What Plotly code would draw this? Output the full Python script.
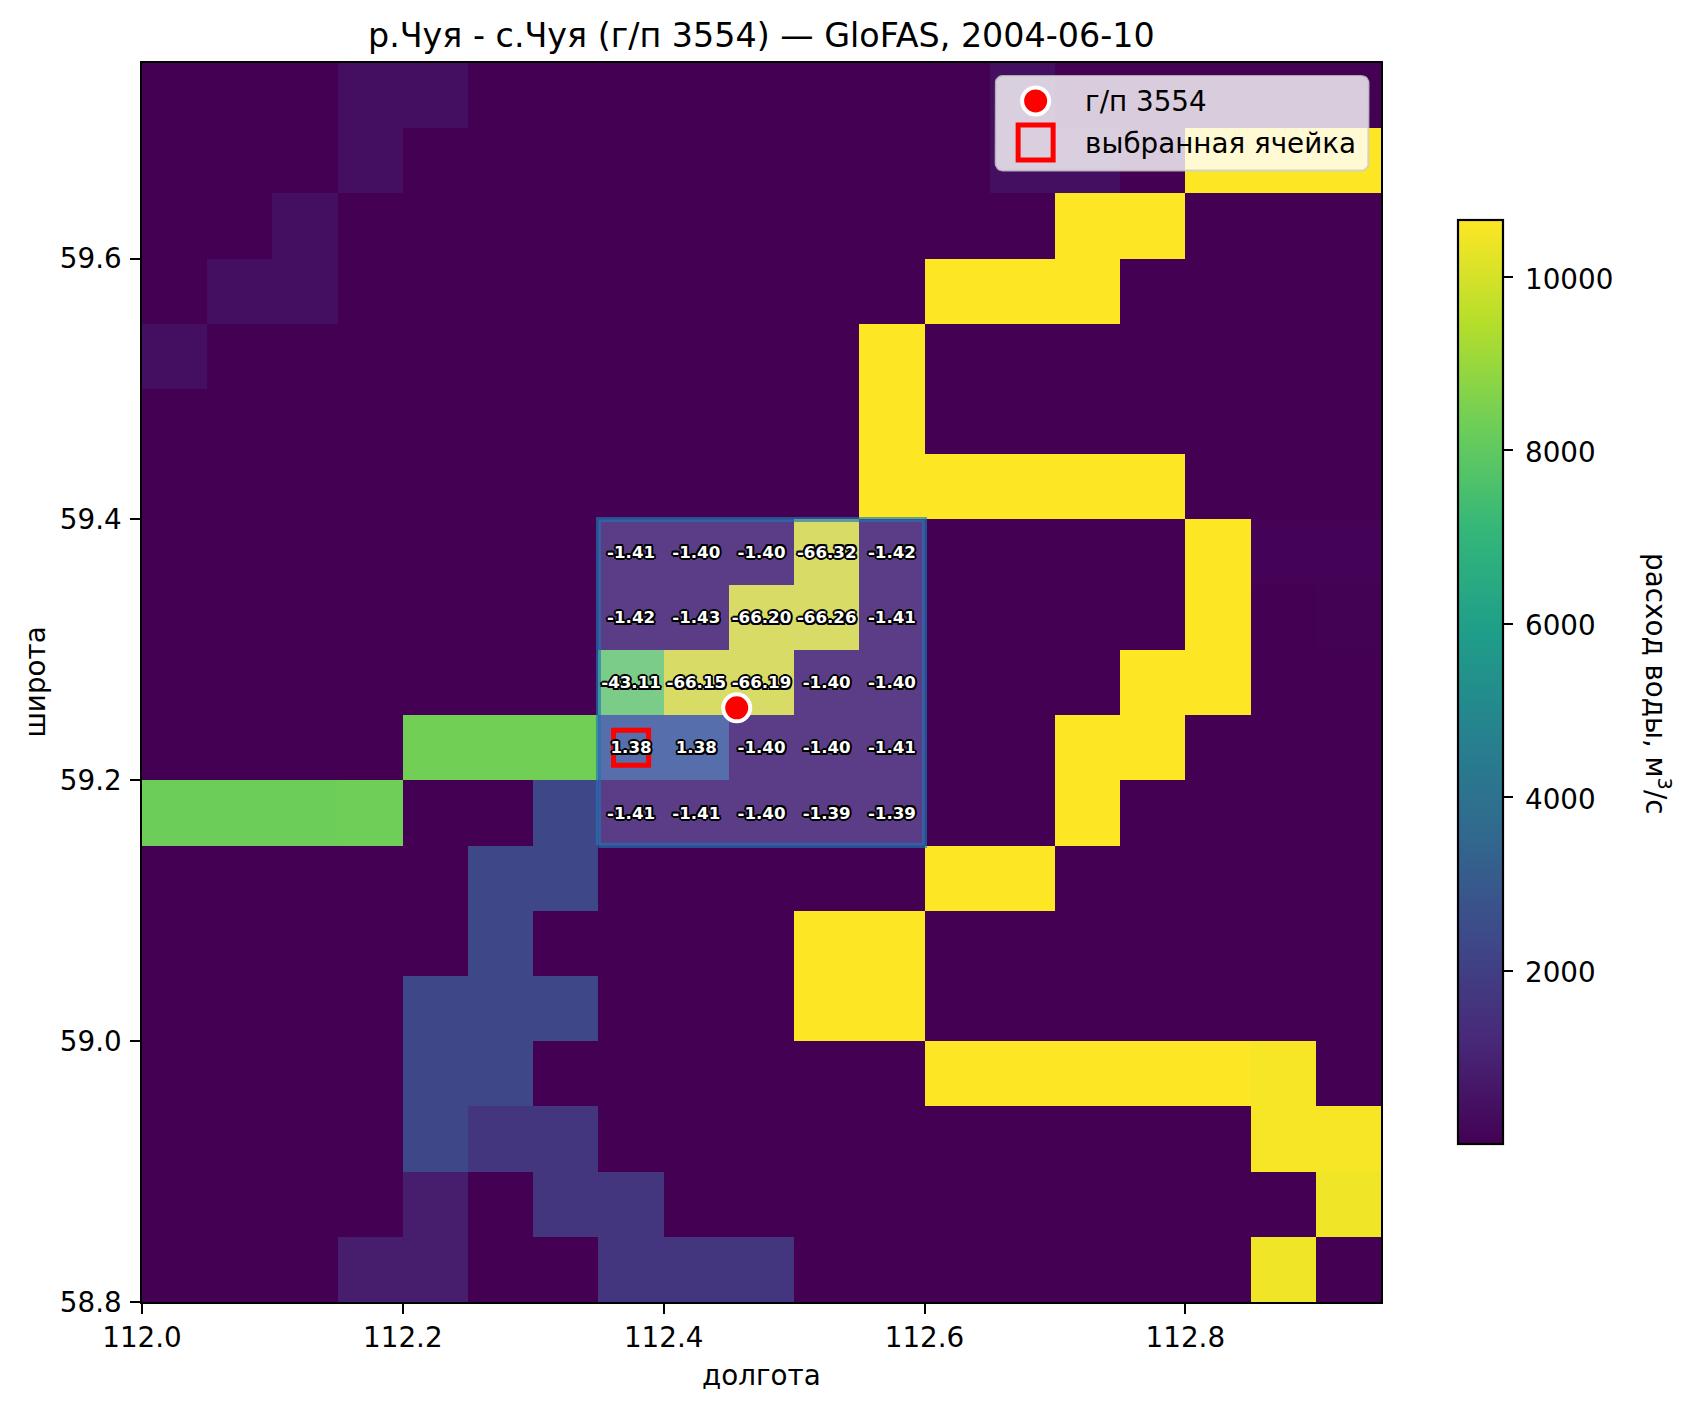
import math
import plotly.graph_objects as go

TITLE = "р.Чуя - с.Чуя (г/п 3554) — GloFAS, 2004-06-10"
FONT = "DejaVu Sans"

# Cell edges of the GloFAS grid
lon_edges = [112.0, 112.05, 112.1, 112.15, 112.2, 112.25, 112.3, 112.35, 112.4, 112.45,
             112.5, 112.55, 112.6, 112.65, 112.7, 112.75, 112.8, 112.85, 112.9, 112.95]
lat_edges = [58.8, 58.85, 58.9, 58.95, 59.0, 59.05, 59.1, 59.15, 59.2, 59.25,
             59.3, 59.35, 59.4, 59.45, 59.5, 59.55, 59.6, 59.65, 59.7, 59.75]

# Discharge classes seen across the domain, m3/s
a = 20      # background
b = 430     # faint tributary
c = 850     # small tributary
d = 1650    # medium tributary
e = 2350    # main branch
f = 8250    # western reach
h = 8290
g = 8350
y = 10650   # main stem, upper
w = 10600
p = 10540
q = 10440

# Discharge, north row first
discharge_rows = [
    [a, a, a, b, b, a, a, a, a, a, a, a, a, b, a, a, a, a, a],
    [a, a, a, b, a, a, a, a, a, a, a, a, a, b, b, a, y, y, y],
    [a, a, b, a, a, a, a, a, a, a, a, a, a, a, y, y, a, a, a],
    [a, b, b, a, a, a, a, a, a, a, a, a, y, y, y, a, a, a, a],
    [b, a, a, a, a, a, a, a, a, a, a, y, a, a, a, a, a, a, a],
    [a, a, a, a, a, a, a, a, a, a, a, y, a, a, a, a, a, a, a],
    [a, a, a, a, a, a, a, a, a, a, a, y, y, y, y, y, a, a, a],
    [a, a, a, a, a, a, a, a, a, a, w, a, a, a, a, a, y, 60, 60],
    [a, a, a, a, a, a, a, a, a, w, w, a, a, a, a, a, y, 10, 40],
    [a, a, a, a, a, a, a, g, w, w, a, a, a, a, a, y, y, a, a],
    [a, a, a, a, g, g, g, e, e, a, a, a, a, a, y, y, a, a, a],
    [f, f, f, h, a, a, e, a, a, a, a, a, a, a, y, a, a, a, a],
    [a, a, a, a, a, e, e, a, a, a, a, a, y, y, a, a, a, a, a],
    [a, a, a, a, a, e, a, a, a, a, y, y, a, a, a, a, a, a, a],
    [a, a, a, a, e, e, e, a, a, a, y, y, a, a, a, a, a, a, a],
    [a, a, a, a, e, e, a, a, a, a, a, a, y, y, y, y, y, p, a],
    [a, a, a, a, e, d, d, a, a, a, a, a, a, a, a, a, a, p, p],
    [a, a, a, a, c, a, d, d, a, a, a, a, a, a, a, a, a, a, q],
    [a, a, a, c, c, a, a, d, d, d, a, a, a, a, a, a, a, q, a],
]

# Relative differences in the 5x5 window around the gauge, north row first
window_lons = [112.375, 112.425, 112.475, 112.525, 112.575]
window_lats = [59.375, 59.325, 59.275, 59.225, 59.175]
window_values = [
    ["-1.41", "-1.40", "-1.40", "-66.32", "-1.42"],
    ["-1.42", "-1.43", "-66.20", "-66.26", "-1.41"],
    ["-43.11", "-66.15", "-66.19", "-1.40", "-1.40"],
    ["1.38", "1.38", "-1.40", "-1.40", "-1.41"],
    ["-1.41", "-1.41", "-1.40", "-1.39", "-1.39"],
]
window_lon_bounds = [112.35, 112.6]
window_lat_bounds = [59.15, 59.4]

gauge_lon = [112.456]
gauge_lat = [59.2556]
selected_lon = [112.375]
selected_lat = [59.225]

lon_ticks = [112.0, 112.2, 112.4, 112.6, 112.8]
lat_ticks = [58.8, 59.0, 59.2, 59.4, 59.6]
cbar_ticks = [2000, 4000, 6000, 8000, 10000]
z_min, z_max = 7, 10653

# Page-pixel layout of the axes box and the colour bar
L, R, T, B = 141.5, 1381, 62.5, 1302.5
W, H = 1687, 1409
CBAR_TOP, CBAR_LEN = 220, 924

LABEL_FONT = 27.78
# Optical centring of the cell labels, degrees of latitude
LABEL_NUDGE = 0.0012
STROKE = ",".join(
    f"{dx}px {dy}px 0 #000"
    for dx, dy in [(2, 0), (-2, 0), (0, 2), (0, -2), (1.5, 1.5), (-1.5, -1.5), (1.5, -1.5), (-1.5, 1.5)]
)

fig = go.Figure()

fig.add_trace(go.Heatmap(
    x=lon_edges, y=lat_edges, z=discharge_rows[::-1],
    colorscale="Viridis", zmin=z_min, zmax=z_max, hoverinfo="skip",
    colorbar=dict(
        lenmode="pixels", len=CBAR_LEN, thicknessmode="pixels", thickness=45,
        x=(1458 - L) / (R - L), xanchor="left", xpad=0,
        y=(B - (CBAR_TOP + CBAR_LEN / 2)) / (B - T), yanchor="middle", ypad=0,
        outlinewidth=2.2, outlinecolor="black",
        ticks="outside", ticklen=9.7, tickwidth=2.2, tickcolor="black",
        tickvals=cbar_ticks, showticklabels=False,
    ),
))

# Highlighted 5x5 window
wx0, wx1 = window_lon_bounds
wy0, wy1 = window_lat_bounds
fig.add_trace(go.Scatter(
    x=[wx0, wx1, wx1, wx0, wx0], y=[wy0, wy0, wy1, wy1, wy0],
    mode="lines", fill="toself", fillcolor="rgba(142,198,248,0.31)",
    line=dict(color="rgba(31,119,180,0.65)", width=5),
    hoverinfo="skip", showlegend=False,
))

# Selected grid cell
fig.add_trace(go.Scatter(
    x=selected_lon, y=selected_lat, mode="markers",
    marker=dict(symbol="square", size=35, color="rgba(0,0,0,0)", line=dict(color="#ff0000", width=5)),
    hoverinfo="skip", showlegend=False,
))

# Cell labels
label_x = [lon for _ in window_lats for lon in window_lons]
label_y = [lat - LABEL_NUDGE for lat in window_lats for _ in window_lons]
label_text = [v for row in window_values for v in row]
fig.add_trace(go.Scatter(
    x=label_x, y=label_y, text=label_text, mode="text",
    textposition="middle center",
    textfont=dict(family=FONT, size=16.67, color="white", weight="bold", shadow=STROKE),
    hoverinfo="skip", showlegend=False,
))

# Gauge location
fig.add_trace(go.Scatter(
    x=gauge_lon, y=gauge_lat, mode="markers",
    marker=dict(symbol="circle", size=27, color="#ff0000", line=dict(color="white", width=4)),
    hoverinfo="skip", showlegend=False,
))

# Legend panel, built on a page-pixel overlay axis so that large swatches keep their size
box_l, box_r, box_t, box_b, rad = 995.5, 1368.5, 75.5, 170, 7
corners = [(box_r - rad, box_t + rad, -90), (box_r - rad, box_b - rad, 0),
           (box_l + rad, box_b - rad, 90), (box_l + rad, box_t + rad, 180)]
panel_x, panel_y = [], []
for cx, cy, start in corners:
    for step in range(7):
        angle = math.radians(start + step * 15)
        panel_x.append(cx + rad * math.cos(angle))
        panel_y.append(cy + rad * math.sin(angle))
panel_x.append(panel_x[0])
panel_y.append(panel_y[0])
fig.add_trace(go.Scatter(
    x=panel_x, y=panel_y, xaxis="x2", yaxis="y2", mode="lines", fill="toself",
    fillcolor="rgba(255,255,255,0.8)", line=dict(color="rgba(204,204,204,0.8)", width=2),
    hoverinfo="skip", showlegend=False,
))
fig.add_trace(go.Scatter(
    x=[1035.5], y=[100.5], xaxis="x2", yaxis="y2", mode="markers",
    marker=dict(symbol="circle", size=27, color="#ff0000", line=dict(color="white", width=4)),
    hoverinfo="skip", showlegend=False,
))
fig.add_trace(go.Scatter(
    x=[1035.5], y=[142], xaxis="x2", yaxis="y2", mode="markers",
    marker=dict(symbol="square", size=35, color="rgba(0,0,0,0)", line=dict(color="#ff0000", width=5)),
    hoverinfo="skip", showlegend=False,
))
fig.add_trace(go.Scatter(
    x=[1085, 1085], y=[104, 146], text=["г/п 3554", "выбранная ячейка"],
    xaxis="x2", yaxis="y2", mode="text", textposition="middle right",
    textfont=dict(family=FONT, size=LABEL_FONT, color="black"),
    hoverinfo="skip", showlegend=False,
))

axis_common = dict(
    showgrid=False, zeroline=False, showline=True, mirror=True,
    linecolor="black", linewidth=2.2,
    ticks="outside", ticklen=9.7, tickwidth=2.2, tickcolor="black",
    tickfont=dict(family=FONT, size=LABEL_FONT, color="black"),
    tickformat=".1f",
)

# Colour-bar tick labels, placed from the same value scale as the bar
cbar_labels = [
    dict(text=str(v), xref="paper", yref="paper",
         x=(1523 - L) / (R - L),
         y=(B - (CBAR_TOP + (z_max - v) / (z_max - z_min) * CBAR_LEN)) / (B - T),
         yshift=-2, showarrow=False, xanchor="left", yanchor="middle",
         font=dict(family=FONT, size=LABEL_FONT, color="black"))
    for v in cbar_ticks
]

fig.update_layout(
    width=W, height=H, autosize=False,
    paper_bgcolor="white", plot_bgcolor="white",
    margin=dict(l=L, r=W - R, t=T, b=H - B),
    showlegend=False,
    xaxis=dict(range=[112.0, 112.95], tickvals=lon_ticks, **axis_common),
    yaxis=dict(range=[58.8, 59.75], tickvals=lat_ticks, ticklabelstandoff=3, **axis_common),
    xaxis2=dict(range=[L, R], overlaying="x", visible=False, anchor="y2"),
    yaxis2=dict(range=[B, T], overlaying="y", visible=False, anchor="x2"),
    annotations=cbar_labels + [
        dict(text=TITLE, xref="paper", yref="paper", x=0.5, y=(B - 35) / (B - T),
             showarrow=False, xanchor="center", yanchor="middle",
             font=dict(family=FONT, size=33.33, color="black")),
        dict(text="долгота", xref="paper", yref="paper", x=0.5, y=(B - 1376) / (B - T),
             showarrow=False, xanchor="center", yanchor="middle",
             font=dict(family=FONT, size=LABEL_FONT, color="black")),
        dict(text="широта", xref="paper", yref="paper", x=(34.5 - L) / (R - L), y=0.5,
             showarrow=False, xanchor="center", yanchor="middle", textangle=-90,
             font=dict(family=FONT, size=LABEL_FONT, color="black")),
        dict(text="расход воды, м<sup>3</sup>/с", xref="paper", yref="paper",
             x=(1657 - L) / (R - L), y=(B - 684) / (B - T),
             showarrow=False, xanchor="center", yanchor="middle", textangle=90,
             font=dict(family=FONT, size=LABEL_FONT, color="black")),
    ],
)

fig.write_html("out.html", config={"displayModeBar": False})
